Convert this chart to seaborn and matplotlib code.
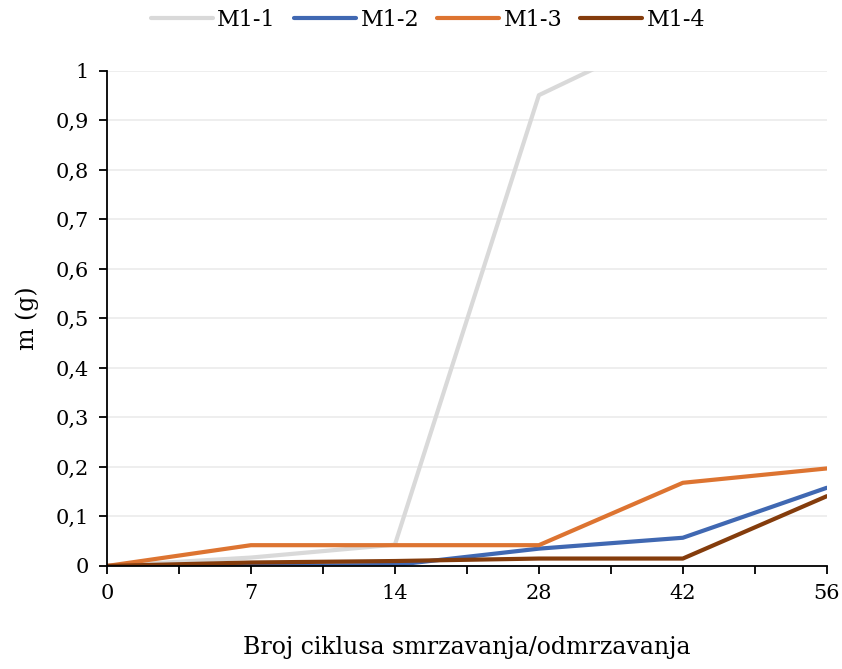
import matplotlib
matplotlib.use("Agg")
import matplotlib.pyplot as plt
import seaborn as sns
import pandas as pd
import numpy as np
from matplotlib.ticker import FixedLocator

cycles = ["0", "7", "14", "28", "42", "56"]
m1_1 = [0.0, 0.017, 0.043, 0.951, 1.09, 1.2]
m1_2 = [0.0, 0.0, 0.002, 0.035, 0.057, 0.158]
m1_3 = [0.0, 0.042, 0.042, 0.042, 0.168, 0.197]
m1_4 = [0.0, 0.007, 0.010, 0.015, 0.015, 0.141]
series_names = ["M1-1", "M1-2", "M1-3", "M1-4"]
colors = ["#D9D9D9", "#4068B2", "#DD7431", "#843C0C"]

rows = []
for name, vals in zip(series_names, [m1_1, m1_2, m1_3, m1_4]):
    for i, v in enumerate(vals):
        rows.append({"pos": i, "val": v, "series": name})
df = pd.DataFrame(rows)

sns.set_style("white")
plt.rcParams["font.family"] = ["DejaVu Serif"]
plt.rcParams["text.color"] = "black"
plt.rcParams["axes.labelcolor"] = "black"

fig = plt.figure(figsize=(8.42, 6.69), dpi=100)
ax = fig.add_axes([0.127, 0.154, 0.855, 0.740])

sns.lineplot(data=df, x="pos", y="val", hue="series", palette=colors,
             hue_order=series_names, linewidth=3.0, ax=ax, legend=True)

ax.set_xlim(0, len(cycles) - 1)
ax.set_ylim(0, 1)
ax.set_xticks(range(len(cycles)))
ax.set_xticklabels(cycles)
ax.xaxis.set_minor_locator(FixedLocator(np.arange(0.5, len(cycles) - 1, 1.0)))
ylabels = []
for t in np.arange(0, 1.01, 0.1):
    s = ("%.1f" % t).replace(".", ",")
    if s == "0,0":
        s = "0"
    if s == "1,0":
        s = "1"
    ylabels.append(s)
ax.set_yticks(np.arange(0, 1.01, 0.1))
ax.set_yticklabels(ylabels)

ax.grid(axis="y", color="#EBEBEB", linewidth=1.2)
ax.set_axisbelow(True)
for side in ["top", "right"]:
    ax.spines[side].set_visible(False)
for side in ["left", "bottom"]:
    ax.spines[side].set_color("black")
    ax.spines[side].set_linewidth(1.3)

ax.tick_params(axis="both", which="both", direction="out", length=6, width=1.3,
               color="black", labelsize=15, labelcolor="black")
ax.tick_params(axis="x", which="both", bottom=True, pad=7)
ax.tick_params(axis="y", left=True, pad=7)

ax.set_xlabel("Broj ciklusa smrzavanja/odmrzavanja", fontsize=17, labelpad=24)
ax.set_ylabel("m (g)", fontsize=17, labelpad=12)

handles, labels = ax.get_legend_handles_labels()
ax.legend(handles, labels, loc="upper center", bbox_to_anchor=(0.446, 1.165),
          ncol=4, frameon=False, fontsize=16, handlelength=2.8,
          handletextpad=0.2, columnspacing=0.8)

fig.savefig("out.png", dpi=100)
